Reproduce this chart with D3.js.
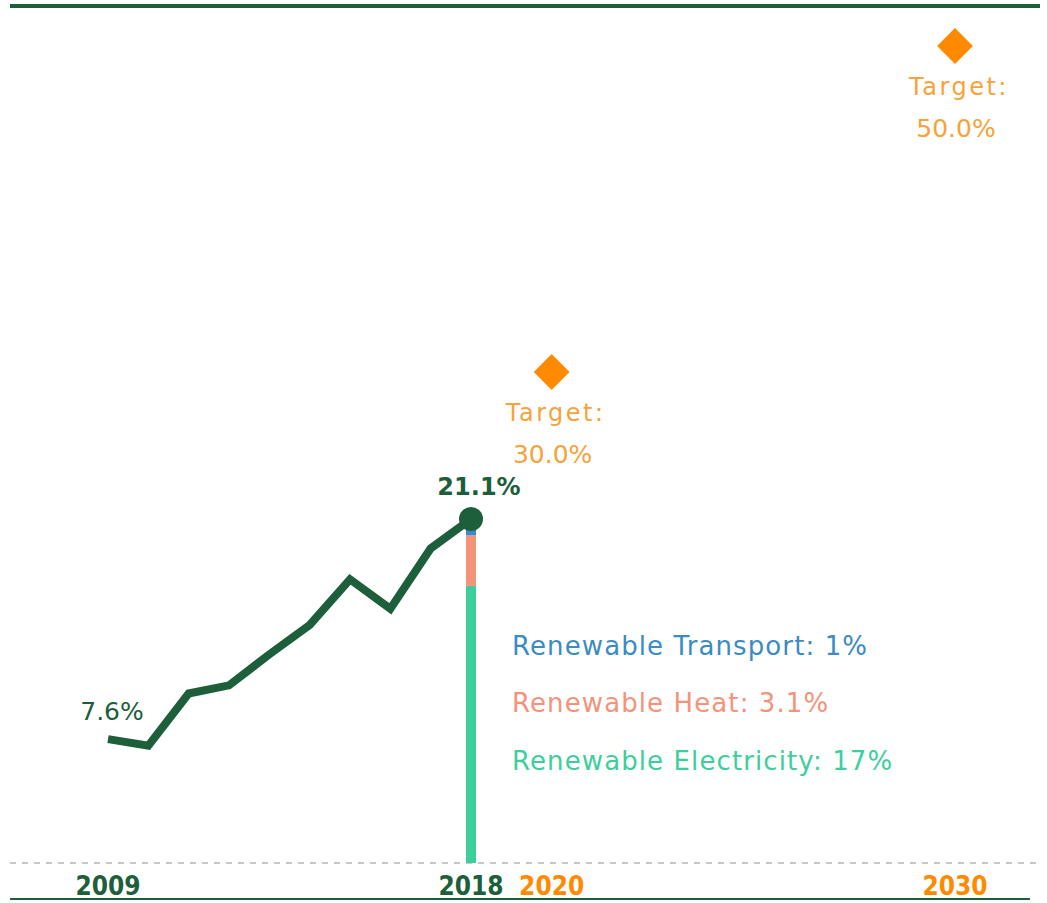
<!DOCTYPE html>
<html>
<head>
<meta charset="utf-8">
<script src="https://cdn.jsdelivr.net/npm/d3@7"></script>
<style>
  body { margin: 0; background: #fff; }
  svg text { font-family: "DejaVu Sans", Lato, sans-serif; }
</style>
</head>
<body>
<svg id="chart" width="1047" height="903"></svg>
<script>
// share of renewable energy, % by year
const years = [2009, 2010, 2011, 2012, 2013, 2014, 2015, 2016, 2017, 2018];
const shares = [7.6, 7.2, 10.4, 10.9, 12.8, 14.6, 17.4, 15.6, 19.3, 21.1];

// 2018 breakdown
const parts = ["Renewable Electricity", "Renewable Heat", "Renewable Transport"];
const partValues = [17, 3.1, 1];
const partLabels = ["17%", "3.1%", "1%"];

// targets
const targetYears = [2020, 2030];
const targetValues = [30.0, 50.0];

const axisYears = [2009, 2018, 2020, 2030];

const green = "#1d5e3b", orange = "#ff8a00", orangeText = "#f7a23a";
const partColors = ["#3ccf9c", "#f5937a", "#3a8bc6"];

const svg = d3.select("#chart");

const x = d3.scaleLinear().domain([2009, 2030]).range([108, 955]);
const y = d3.scaleLinear().domain([0, 50]).range([863, 48]);

// frame lines
svg.append("line").attr("x1", 10).attr("x2", 1040).attr("y1", 6).attr("y2", 6)
  .attr("stroke", green).attr("stroke-width", 4);
svg.append("line").attr("x1", 10).attr("x2", 1040).attr("y1", y(0)).attr("y2", y(0))
  .attr("stroke", "#c8c8c8").attr("stroke-width", 2).attr("stroke-dasharray", "6,6");
svg.append("line").attr("x1", 10).attr("x2", 1030).attr("y1", 899).attr("y2", 899)
  .attr("stroke", green).attr("stroke-width", 2);

// stacked bar for 2018
let acc = 0;
const stack = partValues.map((v, i) => {
  const s = { y0: acc, y1: acc + v, c: partColors[i] };
  acc += v;
  return s;
});
svg.selectAll(".seg").data(stack).enter().append("rect")
  .attr("class", "seg")
  .attr("x", x(2018) - 5).attr("width", 10)
  .attr("y", d => y(d.y1)).attr("height", d => y(d.y0) - y(d.y1))
  .attr("fill", d => d.c);

// line
const line = d3.line().x((d, i) => x(years[i])).y(d => y(d));
svg.append("path").datum(shares).attr("d", line)
  .attr("fill", "none").attr("stroke", green).attr("stroke-width", 8)
  .attr("stroke-linejoin", "miter");

const last = shares.length - 1;
svg.append("circle").attr("cx", x(years[last])).attr("cy", y(shares[last])).attr("r", 12)
  .attr("fill", green);

svg.append("text").attr("x", x(years[last]) + 8).attr("y", y(shares[last]) - 24)
  .attr("text-anchor", "middle").attr("font-size", 24).attr("font-weight", "bold")
  .attr("fill", green).text(shares[last].toFixed(1) + "%");

svg.append("text").attr("x", x(years[0]) + 4).attr("y", y(shares[0]) - 19)
  .attr("text-anchor", "middle").attr("font-size", 25)
  .attr("fill", green).text(shares[0].toFixed(1) + "%");

// targets
targetYears.forEach((yr, i) => {
  const cx = x(yr), cy = y(targetValues[i]);
  svg.append("path")
    .attr("d", d3.symbol().type(d3.symbolSquare).size(640)())
    .attr("transform", `translate(${cx},${cy - 2}) rotate(45)`)
    .attr("fill", orange);
  svg.append("text").attr("x", cx + 4).attr("y", cy + 47)
    .attr("text-anchor", "middle").attr("font-size", 24).attr("fill", orangeText)
    .attr("letter-spacing", 2.5)
    .text("Target:");
  svg.append("text").attr("x", cx + 1).attr("y", cy + 89)
    .attr("text-anchor", "middle").attr("font-size", 25).attr("fill", orangeText)
    .text(targetValues[i].toFixed(1) + "%");
});

// breakdown labels
const legendY = [770, 712, 655];
parts.forEach((p, i) => {
  svg.append("text").attr("x", 512).attr("y", legendY[i])
    .attr("font-size", 26).attr("letter-spacing", 1.1).attr("fill", partColors[i])
    .text(p + ": " + partLabels[i]);
});

// axis labels
svg.selectAll(".yr").data(axisYears).enter().append("text")
  .attr("class", "yr")
  .attr("x", d => x(d)).attr("y", 895)
  .attr("text-anchor", "middle")
  .style("font-family", "'Liberation Sans Narrow', 'DejaVu Sans Condensed', sans-serif")
  .attr("font-size", 26).attr("font-weight", "bold")
  .attr("fill", d => d <= 2018 ? green : orange)
  .text(d => d);
</script>
</body>
</html>
